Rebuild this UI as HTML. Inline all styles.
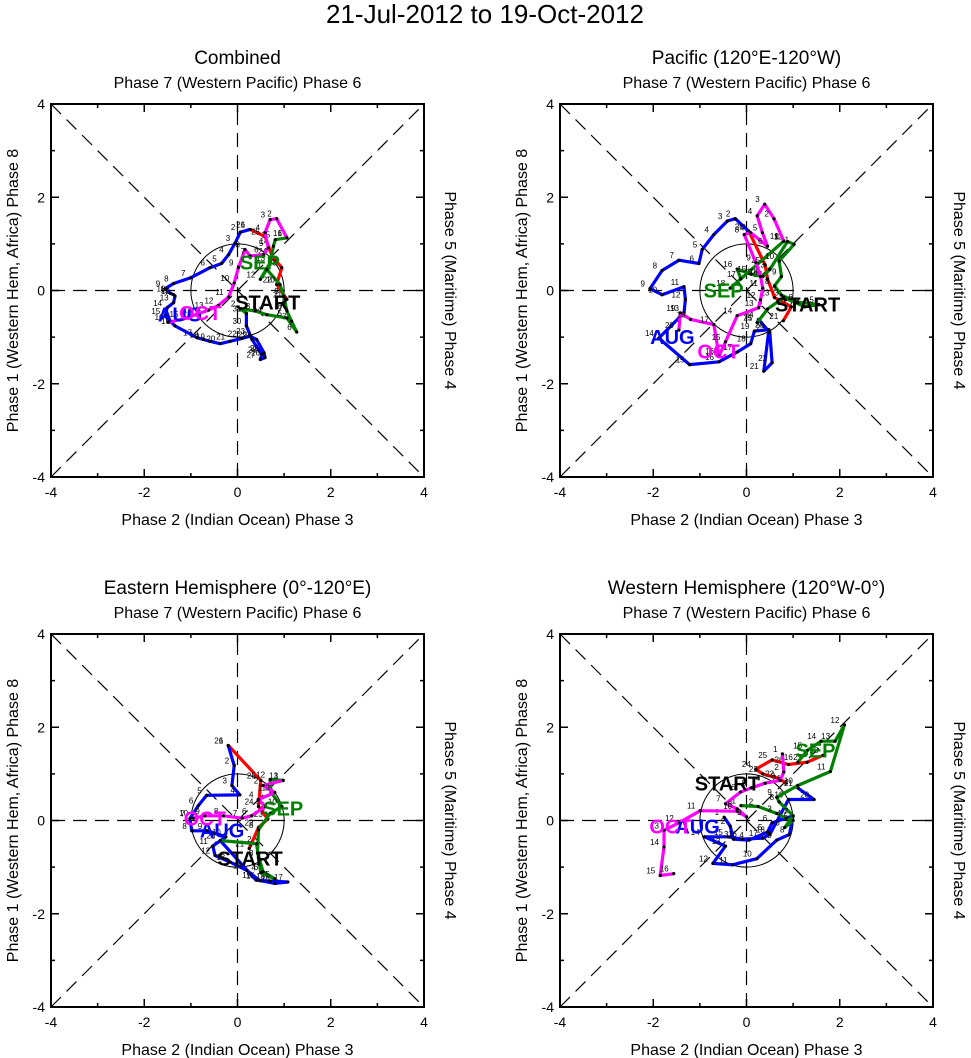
<!DOCTYPE html>
<html><head><meta charset="utf-8"><style>
body{margin:0;background:#fff}
svg{display:block;font-family:"Liberation Sans","DejaVu Sans",sans-serif}
</style></head><body>
<svg id="c" width="971" height="1058" viewBox="0 0 971 1058">
<text x="485" y="23" text-anchor="middle" font-size="26">21-Jul-2012 to 19-Oct-2012</text>
</svg>
<script>
// ---- data (RMM1, RMM2) per panel ----
const panelTitles = ["Combined", "Pacific (120°E-120°W)", "Eastern Hemisphere (0°-120°E)", "Western Hemisphere (120°W-0°)"];
const tickValues = [-4, -2, 0, 2, 4];
const monthStartDays = [21, 1, 1, 1];
const monthColors = ["#ff0000", "#0000ff", "#008000", "#ff00ff"];

const p1Jul = [[1.06,-0.19],[0.84,0.13],[0.95,0.49],[0.74,0.74],[0.59,1.16],[0.27,1.31]];
const p1Aug = [[0.27,1.31],[0.06,1.25],[-0.05,1.02],[-0.19,0.77],[-0.34,0.58],[-0.59,0.49],[-1.01,0.27],[-1.37,0.15],[-1.55,0.04],[-1.44,-0.06],[-1.37,-0.09],[-1.34,-0.12],[-1.37,-0.26],[-1.51,-0.37],[-1.55,-0.55],[-1.34,-0.76],[-0.87,-1.01],[-0.73,-1.05],[-0.59,-1.09],[-0.37,-1.14],[-0.16,-1.09],[0.09,-1.03],[0.27,-0.98],[0.41,-1.05],[0.57,-1.34],[0.59,-1.44],[0.49,-1.48],[0.52,-1.37],[0.31,-1.05],[0.19,-0.76],[0.19,-0.49]];
const p1Sep = [[0.19,-0.49],[0.06,-0.39],[0.38,-0.44],[0.63,-0.52],[1.06,-0.59],[1.27,-0.89],[1.16,-0.66],[1.06,-0.44],[0.99,-0.12],[0.91,0.13],[0.63,0.45],[0.49,0.24],[0.70,0.59],[0.77,0.95],[0.81,1.09],[1.06,1.13]];
const p1Oct = [[1.06,1.13],[0.84,1.54],[0.70,1.52],[0.59,1.24],[0.66,0.91],[0.56,0.77],[0.27,0.74],[0.16,0.88],[0.02,0.49],[-0.07,0.16],[-0.19,-0.14],[-0.41,-0.32],[-0.62,-0.42],[-0.87,-0.51],[-1.16,-0.61],[-1.48,-0.68]];

const p2Jul = [[0.79,-0.65],[0.96,-0.35],[0.60,-0.15],[0.45,0.25],[0.40,0.55],[0.05,1.27]];
const p2Aug = [[0.05,1.27],[-0.24,1.54],[-0.41,1.49],[-0.70,1.20],[-0.95,0.88],[-1.02,0.58],[-1.45,0.65],[-1.81,0.43],[-2.07,0.04],[-1.81,-0.09],[-1.34,0.08],[-1.31,-0.19],[-1.34,-0.48],[-1.88,-1.02],[-1.22,-1.59],[-0.59,-1.53],[-0.20,-1.32],[0.09,-1.14],[0.17,-0.87],[0.48,-0.84],[0.37,-1.73],[0.55,-1.55],[0.50,-0.90],[0.26,-0.62],[0.23,-0.69]];
const p2Sep = [[0.23,-0.69],[0.45,-0.40],[0.80,-0.15],[1.25,-0.35],[1.55,-0.30],[1.10,-0.25],[0.75,-0.10],[0.60,0.10],[0.75,0.30],[0.70,0.63],[1.02,0.99],[0.88,1.05],[0.50,0.45],[0.35,0.30],[0.10,0.35],[-0.20,0.46],[-0.12,0.25],[-0.35,0.05],[0.80,1.06]];
const p2Oct = [[0.80,1.06],[0.59,1.54],[0.39,1.85],[0.23,1.60],[0.34,1.24],[0.45,0.95],[0.09,1.24],[-0.05,1.20],[0.20,0.60],[0.30,0.30],[0.35,0.05],[0.30,-0.20],[0.26,-0.37],[-0.20,-0.54],[-0.45,-1.10],[-0.59,-1.41],[-0.70,-0.73],[-1.20,-0.62],[-1.42,-0.48],[-1.45,-0.85]];

const p3Jul = [[0.25,-0.60],[0.45,-0.15],[0.65,0.03],[0.45,0.30],[0.50,0.86],[-0.20,1.61]];
const p3Aug = [[-0.20,1.61],[-0.07,1.18],[-0.12,0.75],[0.05,0.55],[-0.66,0.54],[-0.84,0.32],[-1.02,0.04],[-0.98,-0.22],[-0.65,-0.22],[-0.25,-0.35],[-0.53,-0.55],[-0.48,-0.75],[-0.16,-0.89],[0.20,-1.07],[0.48,-1.29],[0.80,-1.35],[1.08,-1.32],[0.70,-1.30],[0.40,-1.28],[-0.37,-0.43]];
const p3Sep = [[-0.37,-0.43],[0.41,-0.50],[0.45,-0.80],[0.50,-1.12],[0.80,-1.25],[0.55,-1.10],[0.43,-0.70],[0.45,-0.20],[0.70,0.15],[0.95,0.30],[0.72,0.60],[0.70,0.88],[0.98,0.86]];
const p3Oct = [[0.98,0.86],[0.55,0.75],[0.80,0.60],[0.45,0.45],[0.60,0.30],[0.30,0.10],[0.10,0.05],[-0.30,0.10],[-0.70,0.10],[-0.95,0.05]];

const p4Jul = [[0.85,0.80],[0.70,0.90],[0.35,1.00],[0.20,1.10],[0.55,1.30],[0.90,1.20],[1.30,1.25],[1.65,1.40]];
const p4Aug = [[-0.48,0.07],[-0.35,-0.12],[-0.28,-0.40],[0.05,-0.42],[0.45,-0.25],[0.55,-0.05],[1.00,0.10],[0.92,-0.30],[0.65,-0.42],[0.22,-0.82],[-0.30,-0.95],[-0.72,-0.92],[-0.45,-0.55],[-0.90,-0.35],[-0.40,-0.35],[-0.10,-0.40],[0.35,-0.38],[0.50,-0.30],[0.90,0.45],[1.45,0.45],[1.10,0.70]];
const p4Sep = [[-0.12,0.32],[0.25,0.30],[0.65,0.15],[0.85,0.05],[1.00,0.00],[0.82,-0.15],[1.00,0.10],[0.70,0.40],[0.65,0.50],[1.10,0.75],[1.80,1.05],[2.10,2.05],[1.90,1.70],[1.60,1.70],[1.30,1.50],[1.10,1.25]];
const p4Oct = [[0.77,1.43],[0.80,1.04],[0.72,0.86],[0.40,0.80],[0.10,0.70],[-0.13,0.61],[-0.45,0.36],[-0.20,0.25],[0.00,0.08],[-0.20,0.20],[-0.99,0.21],[-1.45,-0.05],[-1.77,-0.21],[-1.77,-0.57],[-1.85,-1.18],[-1.56,-1.14]];

const labelText = ["START", "AUG", "SEP", "OCT"];
const p1LabelPos = [[0.65,-0.26],[-1.23,-0.52],[0.48,0.60],[-0.80,-0.48]];
const p2LabelPos = [[1.31,-0.30],[-1.59,-1.00],[-0.49,0.00],[-0.60,-1.31]];
const p3LabelPos = [[0.27,-0.82],[-0.33,-0.21],[0.98,0.26],[-0.70,0.04]];
const p4LabelPos = [[-0.41,0.79],[-1.05,-0.13],[1.48,1.50],[-1.63,-0.13]];

const panelSeries = [[p1Jul,p1Aug,p1Sep,p1Oct],[p2Jul,p2Aug,p2Sep,p2Oct],[p3Jul,p3Aug,p3Sep,p3Oct],[p4Jul,p4Aug,p4Sep,p4Oct]];
const panelLabels = [p1LabelPos,p2LabelPos,p3LabelPos,p4LabelPos];

// ---- layout ----
const NS = "http://www.w3.org/2000/svg";
const svg = document.getElementById("c");
const origins = [[51,104],[560,104],[51,634],[560,634]];
const SIZE = 373, LIM = 4;
function mk(tag, attrs, parent){const e=document.createElementNS(NS,tag);for(const k in attrs)e.setAttribute(k,attrs[k]);(parent||svg).appendChild(e);return e;}

panelTitles.forEach((title, pi) => {
  const [x0, y0] = origins[pi];
  const sx = v => x0 + (v + LIM) / (2*LIM) * SIZE;
  const sy = v => y0 + (LIM - v) / (2*LIM) * SIZE;
  const g = mk("g", {});
  
  
  const cx = x0 + SIZE/2;
  let t = mk("text", {x: cx, y: y0 - 40, "text-anchor":"middle","font-size":19}, g); t.textContent = title;
  
  
  t = mk("text", {x: cx, y: y0 - 16, "text-anchor":"middle","font-size":16}, g); t.textContent = "Phase 7 (Western Pacific) Phase 6";
  
  
  t = mk("text", {x: cx, y: y0 + SIZE + 48, "text-anchor":"middle","font-size":16}, g); t.textContent = "Phase 2 (Indian Ocean) Phase 3";
  
  
  const cy = y0 + SIZE/2;
  t = mk("text", {x: 0, y: 0, "text-anchor":"middle","font-size":16, transform:`translate(${x0-33},${cy}) rotate(-90)`}, g); t.textContent = "Phase 1 (Western Hem, Africa) Phase 8";
  
  
  t = mk("text", {x: 0, y: 0, "text-anchor":"middle","font-size":16, transform:`translate(${x0+SIZE+21},${cy}) rotate(90)`}, g); t.textContent = "Phase 5 (Maritime) Phase 4";
  
  

  const dash = {stroke:"#000","stroke-width":1.2,"stroke-dasharray":"14,8",fill:"none"};
  [[-4,-4,4,4],[-4,4,4,-4],[0,-4,0,4],[-4,0,4,0]].forEach(l=>{
    const ln = mk("line", Object.assign({x1:sx(l[0]),y1:sy(l[1]),x2:sx(l[2]),y2:sy(l[3])},dash), g);
    
    
  });
  const circ = mk("circle", {cx:sx(0), cy:sy(0), r:(sx(1)-sx(0)), fill:"none", stroke:"#000","stroke-width":1}, g);
  
  

  const fr = mk("rect", {x:x0,y:y0,width:SIZE,height:SIZE,fill:"none",stroke:"#000","stroke-width":2}, g);
  
  
  for (let v = -4; v <= 4; v++) {
    const len = (v % 2 === 0) ? 8 : 4;
    mk("line",{x1:sx(v),y1:y0+SIZE,x2:sx(v),y2:y0+SIZE-len,stroke:"#000","stroke-width":1.5},g);
    mk("line",{x1:sx(v),y1:y0,x2:sx(v),y2:y0+len,stroke:"#000","stroke-width":1.5},g);
    mk("line",{x1:x0,y1:sy(v),x2:x0+len,y2:sy(v),stroke:"#000","stroke-width":1.5},g);
    mk("line",{x1:x0+SIZE,y1:sy(v),x2:x0+SIZE-len,y2:sy(v),stroke:"#000","stroke-width":1.5},g);
  }
  tickValues.forEach(v=>{
    let tt = mk("text",{x:sx(v),y:y0+SIZE+20,"text-anchor":"middle","font-size":14},g); tt.textContent = v;
    
    
    tt = mk("text",{x:x0-6,y:sy(v)+5,"text-anchor":"end","font-size":14},g); tt.textContent = v;
    
    
  });

  panelSeries[pi].forEach((pts, si) => {
    const d = pts.map((p,i)=>(i?"L":"M")+sx(p[0]).toFixed(1)+","+sy(p[1]).toFixed(1)).join(" ");
    const path = mk("path",{d:d,fill:"none",stroke:monthColors[si],"stroke-width":3.2,"stroke-linejoin":"round"},g);
    
    
    pts.forEach((p,i)=>{
      const dot = mk("circle",{cx:sx(p[0]),cy:sy(p[1]),r:1.6,fill:"#000"},g);
      
      
      const lb = mk("text",{x:sx(p[0])-5,y:sy(p[1])-2,"text-anchor":"end","font-size":8},g);
      lb.textContent = monthStartDays[si] + i;
      
      
    });
  });
  panelLabels[pi].forEach((p, li) => {
    const lt = mk("text",{x:sx(p[0]),y:sy(p[1])+7,"text-anchor":"middle","font-size":20,"font-weight":"bold",fill: li===0?"#000":monthColors[li]},g);
    lt.textContent = labelText[li];
    
    
  });
});
</script>
</body></html>
